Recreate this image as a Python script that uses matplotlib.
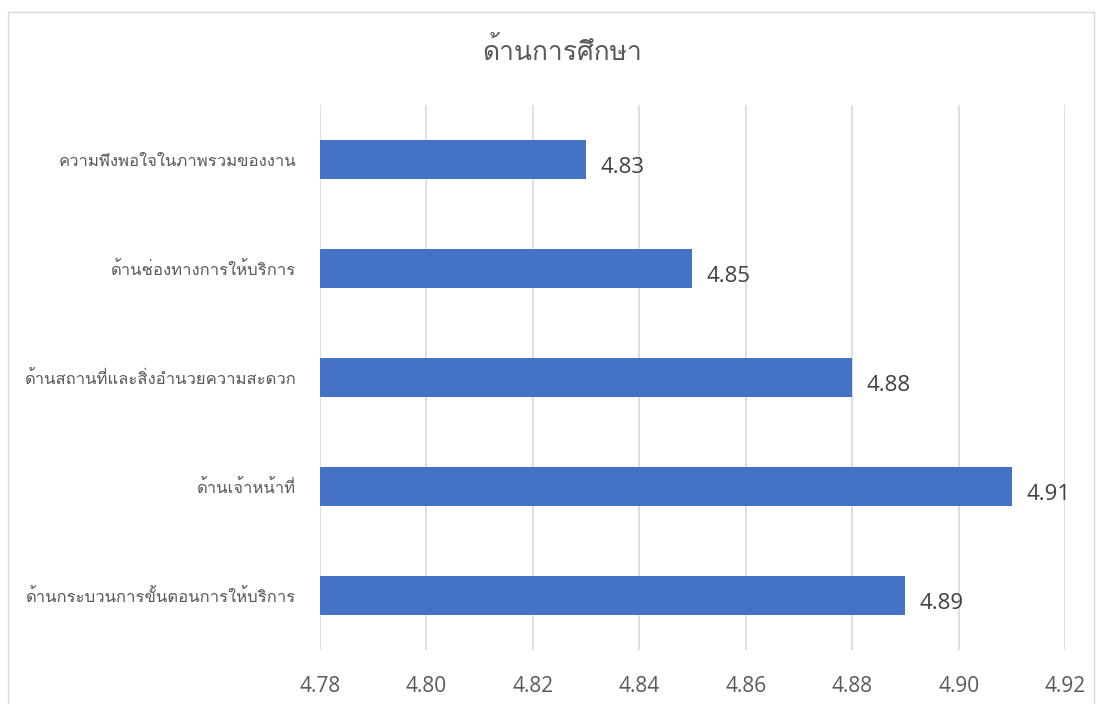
import matplotlib
matplotlib.use("Agg")
import matplotlib.pyplot as plt
from matplotlib import font_manager
from matplotlib.ft2font import FT2Font
from matplotlib.patches import Rectangle

# categories listed from bottom to top
categories = [
    "ด้านกระบวนการขั้นตอนการให้บริการ",
    "ด้านเจ้าหน้าที่",
    "ด้านสถานที่และสิ่งอำนวยความสะดวก",
    "ด้านช่องทางการให้บริการ",
    "ความพึงพอใจในภาพรวมของงาน",
]
scores = [4.89, 4.91, 4.88, 4.85, 4.83]
x_ticks = [4.78, 4.80, 4.82, 4.84, 4.86, 4.88, 4.90, 4.92]
title = "ด้านการศึกษา"


# pick an installed font that can draw Thai
def thai_font():
    seen = set()
    for f in font_manager.fontManager.ttflist:
        if f.name in seen:
            continue
        try:
            cmap = FT2Font(f.fname).get_charmap()
        except Exception:
            continue
        if 0x0E01 in cmap and 0x0E32 in cmap:
            return f.name
        seen.add(f.name)
    return None


tf = thai_font()
families = ([tf] if tf else []) + ["Open Sans", "DejaVu Sans"]
plt.rcParams["font.family"] = families

bar_color = "#4472C4"
text_color = "#595959"

fig = plt.figure(figsize=(11.02, 7.04), dpi=100)
ax = fig.add_axes([320 / 1102, 1 - 650 / 704, (1065 - 320) / 1102, (650 - 105) / 704])

ypos = range(len(categories))
ax.barh(ypos, scores, height=0.35, color=bar_color, zorder=3)
for y, v in zip(ypos, scores):
    ax.text(v + 0.0027, y - 0.07, f"{v:.2f}", va="center", ha="left",
            fontsize=16, color="#404040", family="Open Sans", zorder=4)

ax.set_xlim(x_ticks[0], x_ticks[-1])
ax.set_ylim(-0.5, len(categories) - 0.5)
ax.set_xticks(x_ticks)
ax.set_xticklabels([f"{t:.2f}" for t in x_ticks], family="Open Sans")
ax.set_yticks(list(ypos))
ax.set_yticklabels(categories)
ax.grid(axis="x", color="#D9D9D9", linewidth=1.2, zorder=0)
for s in ax.spines.values():
    s.set_visible(False)
ax.tick_params(axis="both", length=0)
ax.tick_params(axis="x", labelsize=15, labelcolor=text_color, pad=19)
ax.tick_params(axis="y", labelsize=12, labelcolor=text_color, pad=17)

fig.text(562 / 1102, 1 - 51 / 704, title, ha="center", va="center",
         fontsize=19, color=text_color)

# outer chart border
fig.patches.append(Rectangle((8 / 1102, -0.05), 1086 / 1102, 1.05 - 12 / 704,
                             transform=fig.transFigure, fill=False,
                             edgecolor="#D9D9D9", linewidth=1))

fig.savefig("out.png", dpi=100)
